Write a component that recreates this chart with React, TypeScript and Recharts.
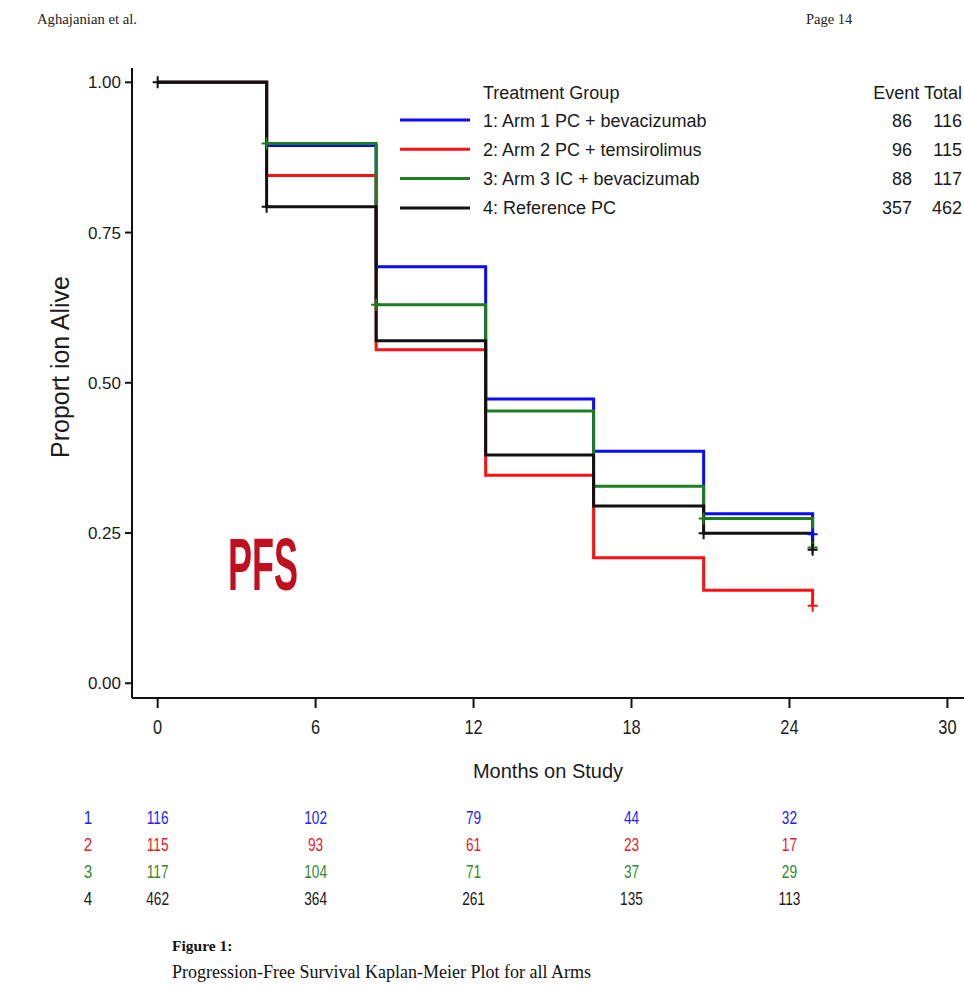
import { ComposedChart, Line, Scatter, XAxis, YAxis } from 'recharts';

// assessment times (months) where the curves step down
const months = [0, 4.14, 8.3, 12.46, 16.56, 20.74, 24.88];

// progression-free proportion after each step
const arm1 = [1, 0.895, 0.693, 0.473, 0.386, 0.282, 0.248];
const arm2 = [1, 0.845, 0.555, 0.346, 0.209, 0.155, 0.129];
const arm3 = [1, 0.898, 0.63, 0.453, 0.328, 0.274, 0.226];
const arm4 = [1, 0.793, 0.57, 0.38, 0.295, 0.2495, 0.222];

// censoring ticks
const censor1T = [24.88];
const censor1S = [0.248];
const censor2T = [24.88];
const censor2S = [0.129];
const censor3T = [4.14, 8.3, 20.74, 24.88];
const censor3S = [0.898, 0.63, 0.274, 0.226];
const censor4T = [0, 4.14, 20.74, 24.88];
const censor4S = [1, 0.793, 0.2495, 0.222];

const groupNames = [
  '1: Arm 1 PC + bevacizumab',
  '2: Arm 2 PC + temsirolimus',
  '3: Arm 3 IC + bevacizumab',
  '4: Reference PC',
];
const events = [86, 96, 88, 357];
const totals = [116, 115, 117, 462];
const colors = ['#0a0aff', '#ff1010', '#1e7d1e', '#111111'];
const riskColors = ['#2424ee', '#e4202c', '#2f8a2f', '#1a1a1a'];

// number at risk
const riskMonths = [0, 6, 12, 18, 24];
const risk1 = [116, 102, 79, 44, 32];
const risk2 = [115, 93, 61, 23, 17];
const risk3 = [117, 104, 71, 37, 29];
const risk4 = [462, 364, 261, 135, 113];

const xTicks = [0, 6, 12, 18, 24, 30];
const yTicks = [0, 0.25, 0.5, 0.75, 1];
const xDomain = [-0.974, 30.63];

const arms = [arm1, arm2, arm3, arm4];
const censors = [
  [censor1T, censor1S],
  [censor2T, censor2S],
  [censor3T, censor3S],
  [censor4T, censor4S],
];
const risks = [risk1, risk2, risk3, risk4];

const sans = '"Liberation Sans", Arial, Helvetica, sans-serif';
const serif = '"Liberation Serif", "Times New Roman", serif';

const Plus = (props: any) => {
  const { cx, cy, color } = props;
  return (
    <path
      d={`M${cx - 5},${cy}H${cx + 5}M${cx},${cy - 6}V${cy + 6}`}
      stroke={color}
      strokeWidth={2}
      fill="none"
    />
  );
};

const RiskNumber = (props: any) => {
  const { cx, cy, payload, color } = props;
  return (
    <text
      transform={`translate(${cx},${cy}) scale(0.72,1)`}
      textAnchor="middle"
      dominantBaseline="central"
      fontSize={19}
      fontFamily={sans}
      fill={color}
    >
      {payload.n}
    </text>
  );
};

const RowLabel = (props: any) => {
  const { x, y, payload } = props;
  const i = payload.value - 1;
  return (
    <text
      transform={`translate(${x - 44},${y}) scale(0.8,1)`}
      textAnchor="middle"
      dominantBaseline="central"
      fontSize={19}
      fontFamily={sans}
      fill={riskColors[i]}
    >
      {payload.value}
    </text>
  );
};

// month labels are narrow and tall
const MonthTick = (props: any) => {
  const { x, y, payload } = props;
  return (
    <text
      transform={`translate(${x},${y}) scale(0.82,1)`}
      textAnchor="middle"
      dy="0.71em"
      fontSize={20}
      fontFamily={sans}
      fill="#1a1a1a"
    >
      {payload.value}
    </text>
  );
};

const YLabel = (props: any) => {
  const { viewBox } = props;
  const cy = viewBox.y + viewBox.height / 2 - 16;
  return (
    <text
      transform={`translate(60,${cy}) rotate(-90)`}
      textAnchor="middle"
      dominantBaseline="central"
      fontSize={25}
      fontFamily={sans}
      fill="#1a1a1a"
    >
      Proport ion Alive
    </text>
  );
};

export default function App() {
  const series = arms.map((arm) => months.map((t, i) => ({ t, s: arm[i] })));
  const censorData = censors.map(([ts, ss]) => ts.map((t, i) => ({ t, s: ss[i] })));
  const riskData = risks.map((r, row) => riskMonths.map((t, i) => ({ t, row: row + 1, n: r[i] })));

  return (
    <div style={{ position: 'relative', width: 964, height: 994, background: '#fff', overflow: 'hidden' }}>
      <style>{'body{margin:0}'}</style>

      <ComposedChart width={964} height={994} margin={{ top: 68, right: 0, bottom: 206, left: 0 }}>
        <XAxis
          type="number"
          dataKey="t"
          domain={xDomain}
          ticks={xTicks}
          allowDataOverflow
          height={90}
          tickSize={10}
          tickMargin={12}
          stroke="#111"
          strokeWidth={2}
          tick={<MonthTick />}
          label={{
            value: 'Months on Study',
            position: 'insideBottom',
            offset: 10,
            fontSize: 20,
            fontFamily: sans,
            fill: '#1a1a1a',
          }}
        />
        <YAxis
          type="number"
          domain={[-0.0245, 1.0238]}
          ticks={yTicks}
          allowDataOverflow
          width={132}
          tickSize={7}
          tickMargin={4}
          stroke="#111"
          strokeWidth={2}
          tickFormatter={(v: number) => v.toFixed(2)}
          tick={{ fontSize: 17, fontFamily: sans, fill: '#1a1a1a' }}
          label={<YLabel />}
        />
        {series.map((d, i) => (
          <Line
            key={groupNames[i]}
            data={d}
            dataKey="s"
            name={groupNames[i]}
            type="stepAfter"
            stroke={colors[i]}
            strokeWidth={3}
            dot={false}
            activeDot={false}
            isAnimationActive={false}
          />
        ))}
        {censorData.map((d, i) => (
          <Scatter
            key={'c' + i}
            data={d}
            dataKey="s"
            legendType="none"
            shape={(p: any) => <Plus {...p} color={colors[i]} />}
            isAnimationActive={false}
          />
        ))}
      </ComposedChart>

      {/* number at risk table, on the same month scale */}
      <div style={{ position: 'absolute', left: 0, top: 804 }}>
        <ComposedChart width={964} height={108} margin={{ top: 0, right: 0, bottom: 0, left: 0 }}>
          <XAxis type="number" dataKey="t" domain={xDomain} allowDataOverflow hide />
          <YAxis
            type="number"
            dataKey="row"
            domain={[0.5, 4.5]}
            ticks={[1, 2, 3, 4]}
            reversed
            width={132}
            axisLine={false}
            tickLine={false}
            tickSize={0}
            tickMargin={0}
            tick={<RowLabel />}
          />
          {riskData.map((d, i) => (
            <Scatter
              key={'r' + i}
              data={d}
              dataKey="row"
              shape={(p: any) => <RiskNumber {...p} color={riskColors[i]} />}
              isAnimationActive={false}
            />
          ))}
        </ComposedChart>
      </div>

      <svg
        width={964}
        height={994}
        style={{ position: 'absolute', left: 0, top: 0, pointerEvents: 'none' }}
      >
        <text x={37} y={24} fontSize={14.5} fontFamily={serif} fill="#222" textLength={100} lengthAdjust="spacingAndGlyphs">
          Aghajanian et al.
        </text>
        <text x={806} y={24} fontSize={14.5} fontFamily={serif} fill="#222">
          Page 14
        </text>

        <text x={483} y={98.5} fontSize={18} fontFamily={sans} fill="#1a1a1a">
          Treatment Group
        </text>
        <text x={962} y={98.5} fontSize={18} fontFamily={sans} fill="#1a1a1a" textAnchor="end">
          Event Total
        </text>
        {groupNames.map((name, i) => {
          const y = 120 + i * 29.3;
          return (
            <g key={name}>
              <line x1={400} x2={470} y1={y} y2={y} stroke={colors[i]} strokeWidth={3} />
              <text x={483} y={y + 6.5} fontSize={18} fontFamily={sans} fill="#1a1a1a">
                {name}
              </text>
              <text x={912} y={y + 6.5} fontSize={18} fontFamily={sans} fill="#1a1a1a" textAnchor="end">
                {events[i]}
              </text>
              <text x={962} y={y + 6.5} fontSize={18} fontFamily={sans} fill="#1a1a1a" textAnchor="end">
                {totals[i]}
              </text>
            </g>
          );
        })}

        <text
          x={228}
          y={590}
          fontSize={74}
          fontWeight="bold"
          fontFamily={sans}
          fill="#c01020"
          textLength={70}
          lengthAdjust="spacingAndGlyphs"
        >
          PFS
        </text>

        <text x={172} y={951} fontSize={15.5} fontWeight="bold" fontFamily={serif} fill="#111">
          Figure 1:
        </text>
        <text x={172} y={978} fontSize={18} fontFamily={serif} fill="#111">
          Progression-Free Survival Kaplan-Meier Plot for all Arms
        </text>
      </svg>
    </div>
  );
}
